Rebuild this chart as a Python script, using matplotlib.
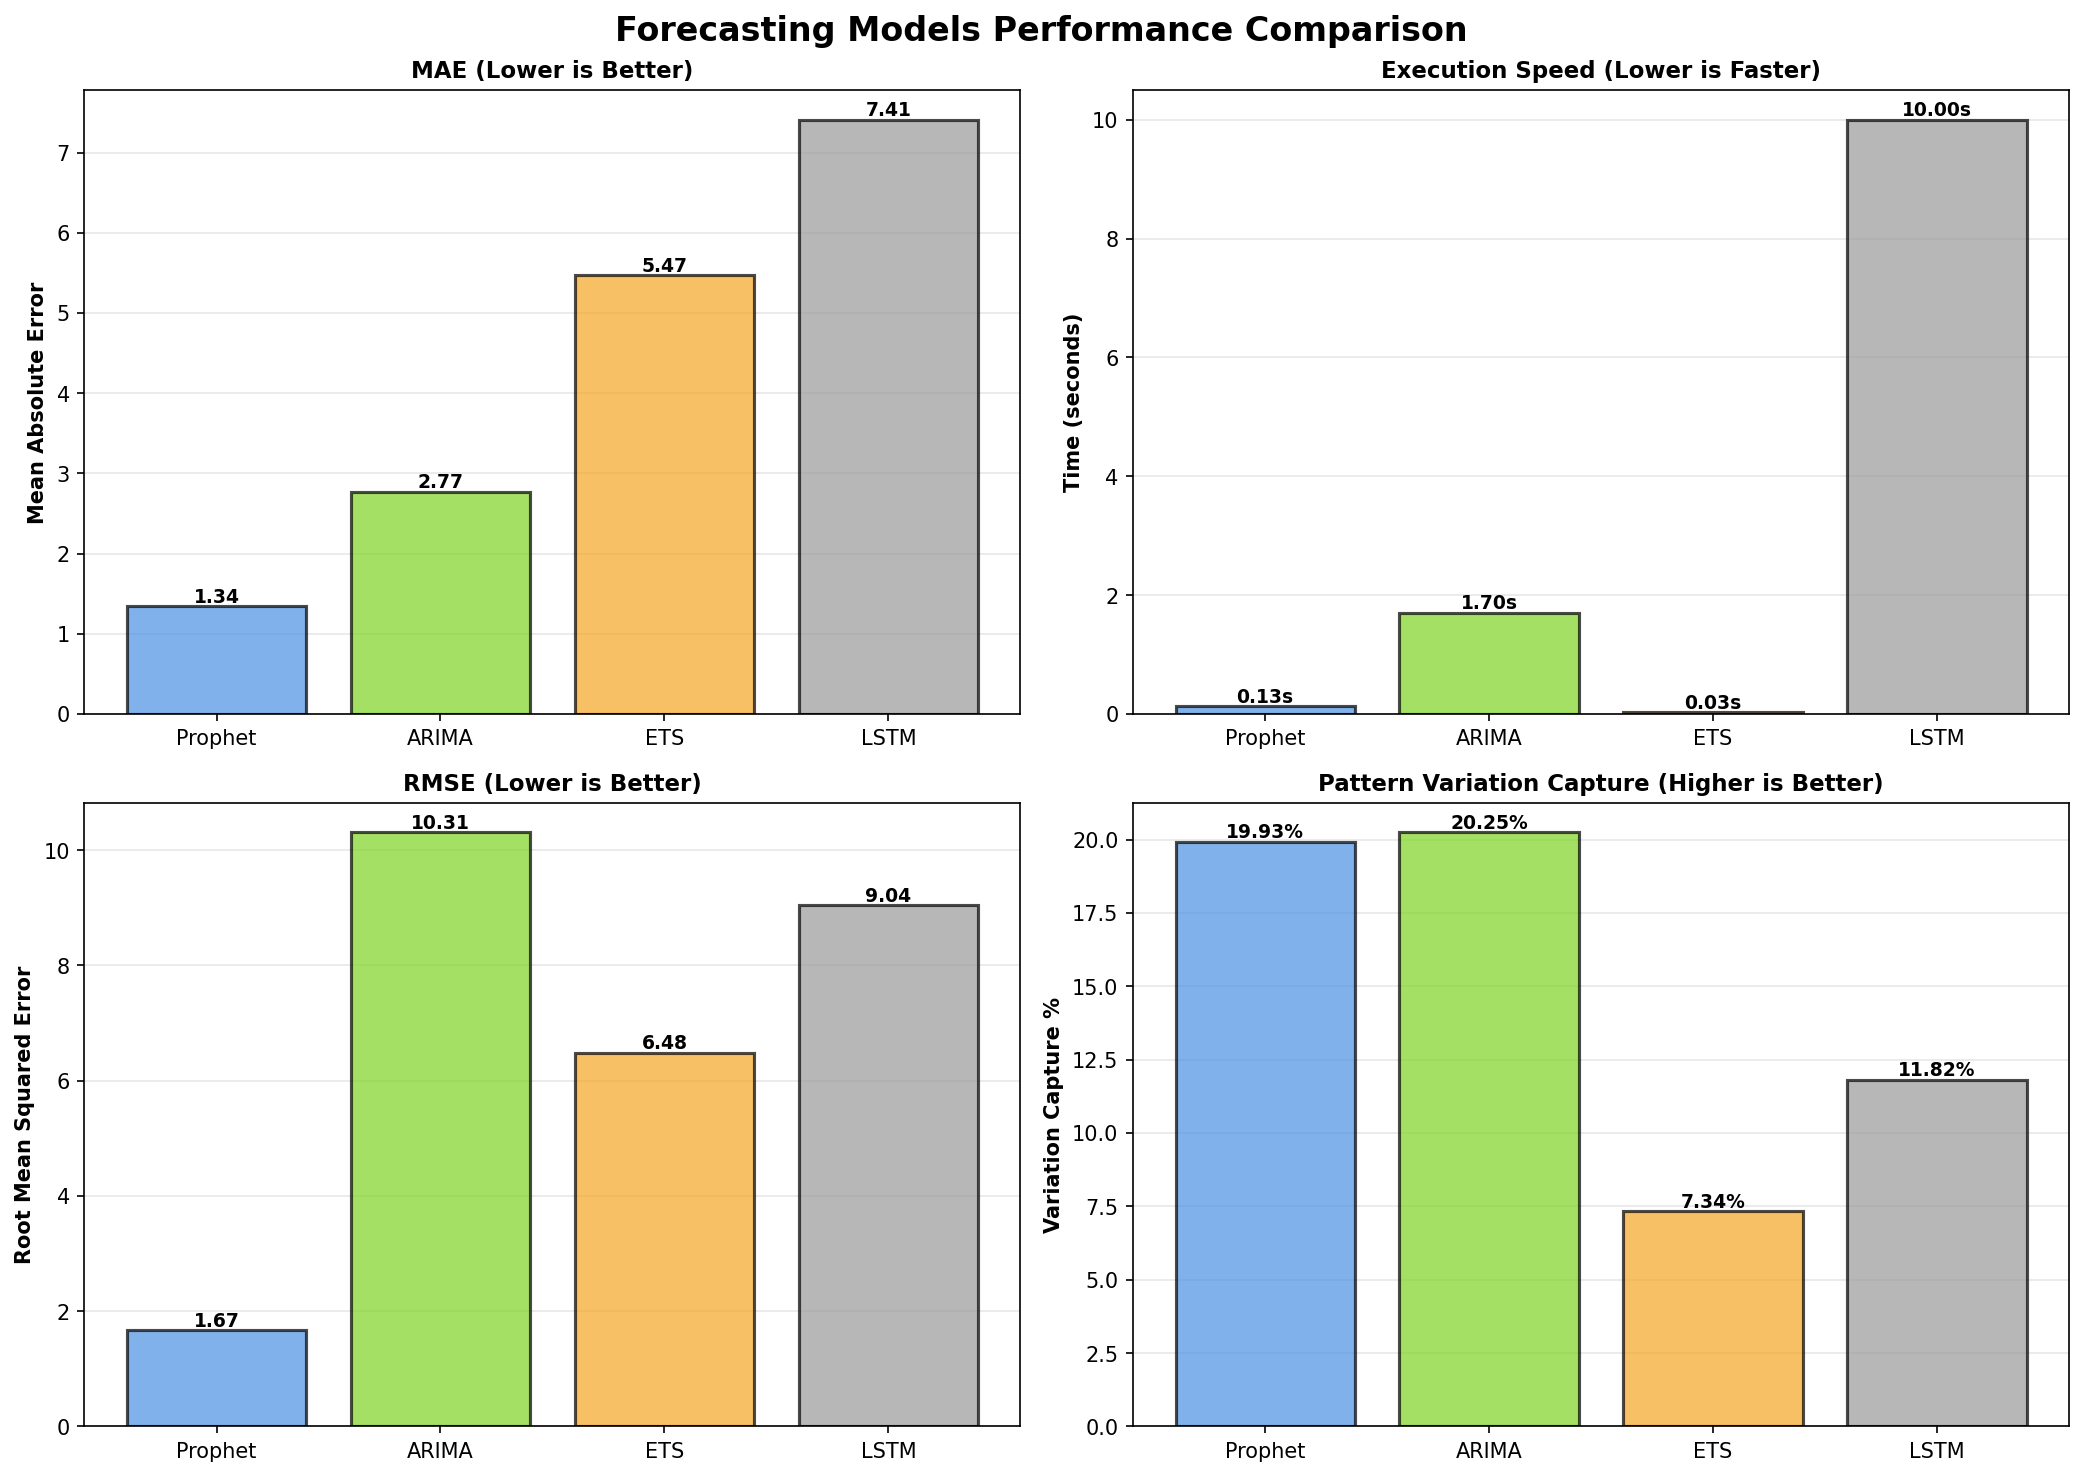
import matplotlib
matplotlib.use('Agg')
import matplotlib.pyplot as plt

# 模型与指标数据
models = ['Prophet', 'ARIMA', 'ETS', 'LSTM']
mae = [1.34, 2.77, 5.47, 7.41]
exec_time = [0.13, 1.70, 0.03, 10.00]
rmse = [1.67, 10.31, 6.48, 9.04]
variation = [19.93, 20.25, 7.34, 11.82]
colors = ['#4A90E2', '#7ED321', '#F5A623', '#999999']

fig, axes = plt.subplots(2, 2, figsize=(14, 10))
fig.suptitle('Forecasting Models Performance Comparison', fontsize=16, fontweight='bold')

panels = [
    (axes[0, 0], mae, 'MAE (Lower is Better)', 'Mean Absolute Error', '{:.2f}'),
    (axes[0, 1], exec_time, 'Execution Speed (Lower is Faster)', 'Time (seconds)', '{:.2f}s'),
    (axes[1, 0], rmse, 'RMSE (Lower is Better)', 'Root Mean Squared Error', '{:.2f}'),
    (axes[1, 1], variation, 'Pattern Variation Capture (Higher is Better)', 'Variation Capture %', '{:.2f}%'),
]

for ax, vals, title, ylabel, fmt in panels:
    bars = ax.bar(models, vals, color=colors, alpha=0.7, edgecolor='black', linewidth=1.5)
    ax.set_title(title, fontsize=11, fontweight='bold')
    ax.set_ylabel(ylabel, fontsize=10, fontweight='bold')
    ax.grid(axis='y', alpha=0.3)
    ax.set_axisbelow(True)
    for b, v in zip(bars, vals):
        ax.text(b.get_x() + b.get_width() / 2, b.get_height(), fmt.format(v),
                ha='center', va='bottom', fontsize=9, fontweight='bold')

plt.tight_layout()
plt.savefig('out.png', dpi=150, bbox_inches='tight')
